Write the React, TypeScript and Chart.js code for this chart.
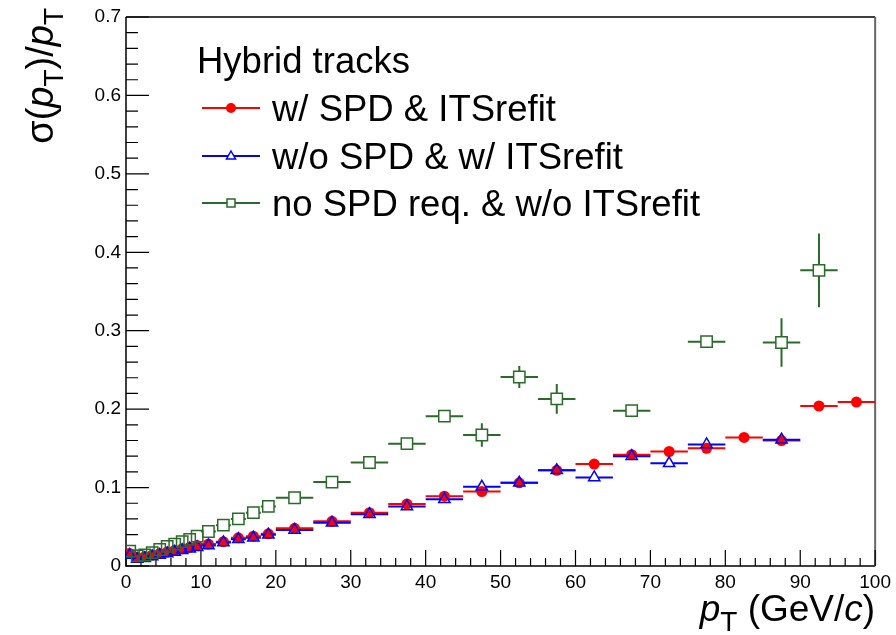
import React, { useEffect, useRef } from 'react';
import { Chart, registerables } from 'chart.js';

Chart.register(...registerables);

// ---------------- data ----------------
const ptCenters = [
  0.5, 1.5, 2.5, 3.5, 4.5, 5.5, 6.5, 7.5, 8.5, 9.5,
  11, 13, 15, 17, 19,
  22.5, 27.5, 32.5, 37.5, 42.5, 47.5, 52.5, 57.5, 62.5, 67.5, 72.5, 77.5, 82.5, 87.5, 92.5, 97.5,
];
const ptHalfWidths = [
  0.5, 0.5, 0.5, 0.5, 0.5, 0.5, 0.5, 0.5, 0.5, 0.5,
  1, 1, 1, 1, 1,
  2.5, 2.5, 2.5, 2.5, 2.5, 2.5, 2.5, 2.5, 2.5, 2.5, 2.5, 2.5, 2.5, 2.5, 2.5, 2.5,
];

// w/ SPD & ITSrefit
const redValues = [
  0.016, 0.011, 0.012, 0.014, 0.016, 0.018, 0.020, 0.022, 0.024, 0.026,
  0.028, 0.031, 0.036, 0.038, 0.041,
  0.048, 0.057, 0.068, 0.079, 0.089, 0.095, 0.106, 0.122, 0.130, 0.142, 0.146, 0.150, 0.164, 0.160, 0.204, 0.209,
];
const redErrors = [
  0.001, 0.001, 0.001, 0.001, 0.001, 0.001, 0.001, 0.001, 0.001, 0.001,
  0.001, 0.001, 0.001, 0.001, 0.001,
  0.001, 0.001, 0.001, 0.001, 0.001, 0.001, 0.001, 0.002, 0.002, 0.002, 0.002, 0.002, 0.002, 0.002, 0.003, 0.003,
];

// w/o SPD & w/ ITSrefit
const blueValues = [
  0.014, 0.009, 0.010, 0.012, 0.014, 0.016, 0.018, 0.020, 0.022, 0.024,
  0.026, 0.030, 0.034, 0.036, 0.040,
  0.046, 0.055, 0.066, 0.076, 0.085, 0.101, 0.106, 0.122, 0.113, 0.140, 0.131, 0.155, null, 0.161, null, null,
];
const blueErrors = [
  0.001, 0.001, 0.001, 0.001, 0.001, 0.001, 0.001, 0.001, 0.001, 0.001,
  0.001, 0.001, 0.001, 0.001, 0.001,
  0.001, 0.001, 0.001, 0.001, 0.002, 0.002, 0.002, 0.002, 0.003, 0.002, 0.003, 0.002, null, 0.003, null, null,
];

// no SPD req. & w/o ITSrefit
const greenValues = [
  0.019, 0.013, 0.014, 0.017, 0.021, 0.025, 0.028, 0.031, 0.034, 0.038,
  0.044, 0.052, 0.060, 0.068, 0.076,
  0.087, 0.107, 0.132, 0.156, 0.191, 0.167, 0.241, 0.213, null, 0.198, null, 0.286, null, 0.285, 0.377, null,
];
const greenErrors = [
  0.001, 0.001, 0.001, 0.001, 0.001, 0.001, 0.001, 0.001, 0.001, 0.001,
  0.001, 0.001, 0.001, 0.001, 0.001,
  0.002, 0.002, 0.003, 0.004, 0.006, 0.015, 0.014, 0.019, null, 0.006, null, 0.006, null, 0.031, 0.047, null,
];

const seriesLabels = ['w/ SPD & ITSrefit', 'w/o SPD & w/ ITSrefit', 'no SPD req. & w/o ITSrefit'];
const legendHeader = 'Hybrid tracks';

const xTickValues = [0, 10, 20, 30, 40, 50, 60, 70, 80, 90, 100];
const xTickLabels = ['0', '10', '20', '30', '40', '50', '60', '70', '80', '90', '100'];
const yTickValues = [0, 0.1, 0.2, 0.3, 0.4, 0.5, 0.6, 0.7];
const yTickLabels = ['0', '0.1', '0.2', '0.3', '0.4', '0.5', '0.6', '0.7'];

const X_MIN = 0, X_MAX = 100, Y_MIN = 0, Y_MAX = 0.7;
const X_MINOR_DIV = 5; // minor ticks per major interval
const Y_MINOR_DIV = 5;

const RED = '#ff0000';
const BLUE = '#0000ff';
const GREEN = '#2a6a2a';
const FONT = '"Liberation Sans", Arial, Helvetica, sans-serif';

function buildPoints(values: (number | null)[], errors: (number | null)[]) {
  const pts: any[] = [];
  ptCenters.forEach((x, i) => {
    const y = values[i];
    if (y === null || y === undefined) return;
    pts.push({ x, y, xerr: ptHalfWidths[i], yerr: errors[i] ?? 0 });
  });
  return pts;
}

// ---------------- plugins ----------------
const errorBarPlugin = {
  id: 'errorBars',
  beforeDatasetDraw(chart: any, args: any) {
    const ds = chart.data.datasets[args.index];
    const xs = chart.scales.x;
    const ys = chart.scales.y;
    const ctx = chart.ctx;
    const gap = ds.barGap || 0;
    ctx.save();
    ctx.strokeStyle = ds.barColor;
    ctx.lineWidth = 2;
    ds.data.forEach((p: any) => {
      const cx = xs.getPixelForValue(p.x);
      const cy = ys.getPixelForValue(p.y);
      const x0 = xs.getPixelForValue(p.x - p.xerr);
      const x1 = xs.getPixelForValue(p.x + p.xerr);
      const yLo = ys.getPixelForValue(p.y - p.yerr);
      const yHi = ys.getPixelForValue(p.y + p.yerr);
      ctx.beginPath();
      if (cx - gap > x0) {
        ctx.moveTo(x0, cy);
        ctx.lineTo(cx - gap, cy);
        ctx.moveTo(cx + gap, cy);
        ctx.lineTo(x1, cy);
      }
      if (yLo - cy > gap + 0.5) {
        ctx.moveTo(cx, cy - gap);
        ctx.lineTo(cx, yHi);
        ctx.moveTo(cx, cy + gap);
        ctx.lineTo(cx, yLo);
      }
      ctx.stroke();
    });
    ctx.restore();
  },
};

const axesPlugin = {
  id: 'rootAxes',
  beforeDatasetsDraw(chart: any) {
    const { ctx, chartArea: a } = chart;
    const xs = chart.scales.x;
    const ys = chart.scales.y;
    ctx.save();
    ctx.strokeStyle = '#000';
    ctx.lineWidth = 1.5;
    ctx.beginPath();
    ctx.moveTo(a.left, a.top);
    ctx.lineTo(a.left, a.bottom);
    ctx.lineTo(a.right, a.bottom);
    ctx.moveTo(a.left, a.top);
    ctx.lineTo(a.right, a.top);
    ctx.stroke();
    ctx.strokeStyle = '#666';
    ctx.lineWidth = 2;
    ctx.beginPath();
    ctx.moveTo(a.right, a.top);
    ctx.lineTo(a.right, a.bottom);
    ctx.stroke();

    ctx.strokeStyle = '#000';
    ctx.lineWidth = 1.2;
    ctx.beginPath();
    // x ticks (inward)
    for (let i = 0; i < xTickValues.length; i++) {
      const v = xTickValues[i];
      const px = xs.getPixelForValue(v);
      ctx.moveTo(px, a.bottom);
      ctx.lineTo(px, a.bottom - 16);
      if (i < xTickValues.length - 1) {
        const step = (xTickValues[i + 1] - v) / X_MINOR_DIV;
        for (let k = 1; k < X_MINOR_DIV; k++) {
          const mx = xs.getPixelForValue(v + k * step);
          ctx.moveTo(mx, a.bottom);
          ctx.lineTo(mx, a.bottom - 8);
        }
      }
    }
    // y ticks (inward)
    for (let i = 0; i < yTickValues.length; i++) {
      const v = yTickValues[i];
      const py = ys.getPixelForValue(v);
      ctx.moveTo(a.left, py);
      ctx.lineTo(a.left + 23, py);
      if (i < yTickValues.length - 1) {
        const step = (yTickValues[i + 1] - v) / Y_MINOR_DIV;
        for (let k = 1; k < Y_MINOR_DIV; k++) {
          const my = ys.getPixelForValue(v + k * step);
          ctx.moveTo(a.left, my);
          ctx.lineTo(a.left + 12, my);
        }
      }
    }
    ctx.stroke();
    ctx.restore();
  },
};

function drawMarker(ctx: CanvasRenderingContext2D, kind: string, x: number, y: number, color: string) {
  ctx.save();
  ctx.lineWidth = 1.5;
  ctx.strokeStyle = color;
  ctx.fillStyle = color;
  ctx.beginPath();
  if (kind === 'circle') {
    ctx.arc(x, y, 5, 0, Math.PI * 2);
    ctx.fill();
  } else if (kind === 'triangle') {
    ctx.moveTo(x, y - 5);
    ctx.lineTo(x + 4.5, y + 3);
    ctx.lineTo(x - 4.5, y + 3);
    ctx.closePath();
    ctx.fillStyle = '#fff';
    ctx.fill();
    ctx.stroke();
  } else {
    ctx.rect(x - 4, y - 4, 8, 8);
    ctx.fillStyle = '#fff';
    ctx.fill();
    ctx.stroke();
  }
  ctx.restore();
}

type Part = { t: string; italic?: boolean; sub?: boolean };

function drawRich(ctx: CanvasRenderingContext2D, parts: Part[], size: number, subSize: number, subShift: number, x: number, y: number) {
  let cx = x;
  parts.forEach((p) => {
    const fs = p.sub ? subSize : size;
    ctx.font = `${p.italic ? 'italic ' : ''}${fs}px ${FONT}`;
    ctx.fillText(p.t, cx, y + (p.sub ? subShift : 0));
    cx += ctx.measureText(p.t).width;
  });
  return cx - x;
}

function measureRich(ctx: CanvasRenderingContext2D, parts: Part[], size: number, subSize: number) {
  let w = 0;
  parts.forEach((p) => {
    const fs = p.sub ? subSize : size;
    ctx.font = `${p.italic ? 'italic ' : ''}${fs}px ${FONT}`;
    w += ctx.measureText(p.t).width;
  });
  return w;
}

const annotationPlugin = {
  id: 'rootAnnotations',
  afterDraw(chart: any) {
    const ctx: CanvasRenderingContext2D = chart.ctx;
    const a = chart.chartArea;
    ctx.save();
    ctx.fillStyle = '#000';
    ctx.textBaseline = 'alphabetic';
    ctx.textAlign = 'left';

    // y-axis title
    const yParts: Part[] = [
      { t: 'σ(' },
      { t: 'p', italic: true },
      { t: 'T', sub: true },
      { t: ')/' },
      { t: 'p', italic: true },
      { t: 'T', sub: true },
    ];
    const yw = measureRich(ctx, yParts, 38, 28);
    ctx.save();
    ctx.translate(53, 8 + yw);
    ctx.rotate(-Math.PI / 2);
    drawRich(ctx, yParts, 38, 28, 10, 0, 0);
    ctx.restore();

    // x-axis title
    const xParts: Part[] = [
      { t: 'p', italic: true },
      { t: 'T', sub: true },
      { t: ' (GeV/' },
      { t: 'c', italic: true },
      { t: ')' },
    ];
    const xw = measureRich(ctx, xParts, 37, 28);
    drawRich(ctx, xParts, 37, 28, 10, a.right - xw, 621);

    // legend
    ctx.font = `36.5px ${FONT}`;
    ctx.fillText(legendHeader, 197, 73);
    const rows = [
      { label: seriesLabels[0], color: RED, kind: 'circle', y: 108 },
      { label: seriesLabels[1], color: BLUE, kind: 'triangle', y: 156 },
      { label: seriesLabels[2], color: GREEN, kind: 'rect', y: 203 },
    ];
    rows.forEach((r) => {
      ctx.strokeStyle = r.color;
      ctx.lineWidth = 2;
      ctx.beginPath();
      ctx.moveTo(202, r.y);
      ctx.lineTo(260, r.y);
      ctx.stroke();
      drawMarker(ctx, r.kind, 231, r.y, r.color);
      ctx.fillStyle = '#000';
      ctx.font = `36.5px ${FONT}`;
      ctx.fillText(r.label, 272, r.y + 13);
    });
    ctx.restore();
  },
};

// ---------------- component ----------------
export default function App() {
  const canvasRef = useRef<HTMLCanvasElement | null>(null);

  useEffect(() => {
    document.body.style.margin = '0';
    const canvas = canvasRef.current;
    if (!canvas) return;

    const chart = new Chart(canvas, {
      type: 'scatter',
      data: {
        datasets: [
          {
            label: seriesLabels[0],
            data: buildPoints(redValues, redErrors),
            pointStyle: 'circle',
            pointRadius: 5.5,
            backgroundColor: RED,
            borderColor: RED,
            borderWidth: 0,
            order: 3,
            barColor: RED,
            barGap: 0,
          } as any,
          {
            label: seriesLabels[1],
            data: buildPoints(blueValues, blueErrors),
            pointStyle: 'triangle',
            pointRadius: 6.5,
            backgroundColor: 'rgba(0,0,0,0)',
            borderColor: BLUE,
            borderWidth: 1.5,
            order: 2,
            barColor: BLUE,
            barGap: 4,
          } as any,
          {
            label: seriesLabels[2],
            data: buildPoints(greenValues, greenErrors),
            pointStyle: 'rect',
            pointRadius: 8,
            backgroundColor: 'rgba(255,255,255,0)',
            borderColor: GREEN,
            borderWidth: 1.5,
            order: 1,
            barColor: GREEN,
            barGap: 5.7,
          } as any,
        ],
      },
      options: {
        responsive: false,
        animation: false,
        devicePixelRatio: 1,
        events: [],
        layout: { padding: { top: 17, right: 20, left: 0, bottom: 0 } },
        plugins: {
          legend: { display: false },
          tooltip: { enabled: false },
        },
        scales: {
          x: {
            type: 'linear',
            min: X_MIN,
            max: X_MAX,
            grid: { display: false, drawTicks: false },
            border: { display: false },
            afterBuildTicks: (s: any) => {
              s.ticks = xTickValues.map((v) => ({ value: v }));
            },
            ticks: {
              autoSkip: false,
              maxRotation: 0,
              padding: 5,
              color: '#000',
              font: { family: FONT, size: 19 },
              callback: (_v: any, i: number) => xTickLabels[i],
            },
            afterFit: (s: any) => {
              s.height = 69;
            },
          },
          y: {
            type: 'linear',
            min: Y_MIN,
            max: Y_MAX,
            grid: { display: false, drawTicks: false },
            border: { display: false },
            afterBuildTicks: (s: any) => {
              s.ticks = yTickValues.map((v) => ({ value: v }));
            },
            ticks: {
              autoSkip: false,
              padding: 5,
              color: '#000',
              font: { family: FONT, size: 19 },
              callback: (_v: any, i: number) => yTickLabels[i],
            },
            afterFit: (s: any) => {
              s.width = 126;
            },
          },
        },
      } as any,
      plugins: [axesPlugin, errorBarPlugin, annotationPlugin],
    });

    return () => {
      chart.destroy();
    };
  }, []);

  return (
    <div style={{ width: 896, height: 635, background: '#fff' }}>
      <canvas ref={canvasRef} width={896} height={635} style={{ display: 'block', width: 896, height: 635 }} />
    </div>
  );
}
